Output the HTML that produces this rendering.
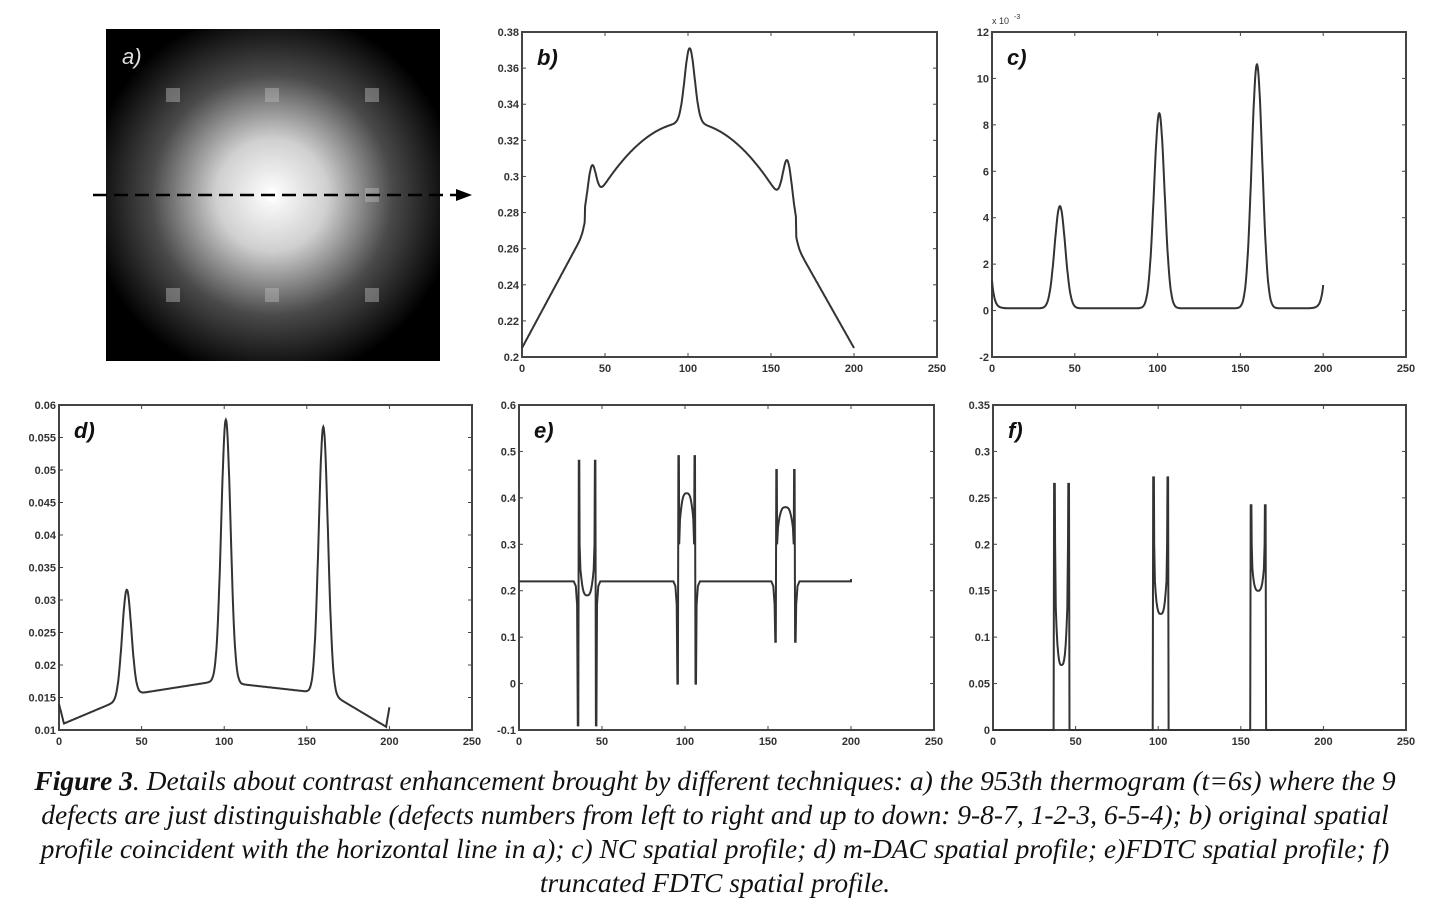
<!DOCTYPE html>
<html><head><meta charset="utf-8"><style>
html,body{margin:0;padding:0;background:#fff;}
body{width:1430px;height:921px;position:relative;overflow:hidden;}
svg{position:absolute;left:0;top:0;}
.cap{position:absolute;left:0;width:1430px;top:764px;text-align:center;font-family:"Liberation Serif",serif;font-style:italic;font-size:27.5px;line-height:34px;color:#111;white-space:nowrap;}
</style></head><body>
<svg id="s" width="1430" height="921" xmlns="http://www.w3.org/2000/svg">
<defs>
<radialGradient id="g" cx="272" cy="195" r="185" gradientUnits="userSpaceOnUse">
<stop offset="0" stop-color="#fff"/><stop offset="0.3" stop-color="#d0d0d0"/><stop offset="0.65" stop-color="#4a4a4a"/><stop offset="1" stop-color="#000"/>
</radialGradient>
</defs>
<rect x="106" y="29" width="334" height="332" fill="#000"/>
<rect x="106" y="29" width="334" height="332" fill="url(#g)"/>
<g fill="#bbb" opacity="0.45">
<rect x="166" y="88" width="14" height="14"/><rect x="265" y="88" width="14" height="14"/><rect x="365" y="88" width="14" height="14"/>
<rect x="166" y="288" width="14" height="14"/><rect x="265" y="288" width="14" height="14"/><rect x="365" y="288" width="14" height="14"/>
<rect x="365" y="188" width="14" height="14"/>
</g>
<circle cx="272" cy="195" r="6" fill="#fff"/>
<text x="122" y="64" font-family="Liberation Sans,sans-serif" font-style="italic" font-size="22" fill="#ddd">a)</text>
<line x1="93" y1="195" x2="462" y2="195" stroke="#000" stroke-width="2.5" stroke-dasharray="14,7"/>
<polygon points="456,189 472,195 456,201" fill="#000"/>
</svg>
<div class="cap"><b>Figure 3</b>. Details about contrast enhancement brought by different techniques: a) the 953th thermogram (t=6s) where the 9<br>defects are just distinguishable (defects numbers from left to right and up to down: 9-8-7, 1-2-3, 6-5-4); b) original spatial<br>profile coincident with the horizontal line in a); c) NC spatial profile; d) m-DAC spatial profile; e)FDTC spatial profile; f)<br>truncated FDTC spatial profile.</div>
<script>
var S=document.getElementById('s'),NS='http://www.w3.org/2000/svg';
function el(t,a,txt){var e=document.createElementNS(NS,t);for(var k in a)e.setAttribute(k,a[k]);if(txt!=null)e.textContent=txt;S.appendChild(e);return e;}
function G(x,m,s){return Math.exp(-(x-m)*(x-m)/(2*s*s));}
function panel(L,T,R,B,ymin,ymax,yt,lab,fn,pts,extra){
 el('rect',{x:L,y:T,width:R-L,height:B-T,fill:'none',stroke:'#444','stroke-width':2});
 var fx=function(x){return L+(R-L)*x/250},fy=function(y){return B-(B-T)*(y-ymin)/(ymax-ymin)};
 for(var i=0;i<=5;i++){var x=fx(i*50);el('line',{x1:x,y1:B,x2:x,y2:B-4,stroke:'#444'});el('line',{x1:x,y1:T,x2:x,y2:T+4,stroke:'#444'});
  el('text',{x:x,y:B+15,'text-anchor':'middle','font-family':'Liberation Sans,sans-serif','font-size':11,'font-weight':'bold',fill:'#333'},i*50);}
 yt.forEach(function(v){var y=fy(v);el('line',{x1:L,y1:y,x2:L+4,y2:y,stroke:'#444'});el('line',{x1:R,y1:y,x2:R-4,y2:y,stroke:'#444'});
  el('text',{x:L-3,y:y+4,'text-anchor':'end','font-family':'Liberation Sans,sans-serif','font-size':11,'font-weight':'bold',fill:'#333'},String(v));});
 el('text',{x:L+15,y:T+33,'font-family':'Liberation Sans,sans-serif','font-style':'italic','font-weight':'bold','font-size':22,fill:'#111'},lab);
 var d='';
 if(fn){for(var x=0;x<=200;x+=0.25){d+=(x?'L':'M')+fx(x).toFixed(1)+','+fy(fn(x)).toFixed(1);}}
 else{pts.forEach(function(p,i){d+=(i?'L':'M')+fx(p[0]).toFixed(1)+','+fy(p[1]).toFixed(1);});}
 el('path',{d:d,fill:'none',stroke:'#333','stroke-width':2});
 if(extra)extra(fx,fy);
}
panel(522,32,937,357,0.2,0.38,[0.2,0.22,0.24,0.26,0.28,0.3,0.32,0.34,0.36,0.38],'b)',function(x){
 var b;
 if(x<38)b=0.205+0.065*x/38;
 else if(x>165)b=0.262-0.057*(x-165)/35;
 else b=0.33-1.37e-5*(x-100)*(x-100);
 if(x<=45&&x>=38)b=Math.max(b,0.27);
 return b+0.022*G(x,42,2.5)+0.041*G(x,101,3)+0.028*G(x,160,2.8);
});
panel(992,32,1406,357,-2,12,[-2,0,2,4,6,8,10,12],'c)',function(x){
 return 0.1+1.2*Math.exp(-x/1.5)+1.0*Math.exp(-(200-x)/1.5)+4.4*G(x,41,3.2)+8.4*G(x,101,3.2)+10.5*G(x,160,3.2);
},null,function(fx,fy){el('text',{x:992,y:24,'font-family':'Liberation Sans,sans-serif','font-size':9,fill:'#333'},'x 10');el('text',{x:1014,y:19,'font-family':'Liberation Sans,sans-serif','font-size':7,fill:'#333'},'-3');});
panel(59,405,472,730,0.01,0.06,[0.01,0.015,0.02,0.025,0.03,0.035,0.04,0.045,0.05,0.055,0.06],'d)',function(x){
 var b;
 if(x<3)b=0.014-0.001*x;else if(x<45)b=0.011+0.0045*(x-3)/42;
 else if(x<105)b=0.0155+0.002*(x-45)/50;
 else if(x<165)b=0.0172-0.0017*(x-105)/60;
 else if(x<198)b=0.0155-0.005*(x-165)/33;else b=0.0105+0.0015*(x-198);
 return b+0.0165*G(x,41,2.8)+0.04*G(x,101,2.8)+0.041*G(x,160,2.8);
});
function grp(a,b,mx,um,mn){var c=(a+b)/2,p=[];
 p.push([a-3,0.22],[a-1.8,0.21],[a-1,0.17],[a-0.6,mn],[a-0.3,mn],[a,mx],[a+0.3,mx],[a+0.5,0.3]);
 for(var x=a+1;x<=b-1;x+=0.5){var t=(x-c)/((b-a)/2);p.push([x,um+(0.3-um)*Math.pow(Math.abs(t),3)]);}
 p.push([b-0.5,0.3],[b-0.3,mx],[b,mx],[b+0.3,mn],[b+0.6,mn],[b+1,0.17],[b+1.8,0.21],[b+3,0.22]);return p;}
var ep=[[0,0.22]].concat(grp(36,46,0.48,0.19,-0.09),grp(96,106,0.49,0.41,0.0),grp(155,166,0.46,0.38,0.09),[[200,0.22],[200,0.225]]);
panel(519,405,934,730,-0.1,0.6,[-0.1,0,0.1,0.2,0.3,0.4,0.5,0.6],'e)',null,ep);
function fg(a,b,mx,um){var c=(a+b)/2,p=[[a-0.3,0],[a,mx],[a+0.4,mx],[a+0.6,0.2]];
 for(var x=a+1;x<=b-1;x+=0.5){var t=(x-c)/((b-a)/2);p.push([x,um+(0.2-um)*Math.pow(Math.abs(t),3)]);}
 p.push([b-0.6,0.2],[b-0.4,mx],[b,mx],[b+0.3,0]);return p;}
var fp=[[0,0]].concat(fg(37,46,0.265,0.07),fg(97,106,0.272,0.125),fg(156,165,0.242,0.15),[[200,0]]);
panel(993,405,1406,730,0,0.35,[0,0.05,0.1,0.15,0.2,0.25,0.3,0.35],'f)',null,fp);
</script>
</body></html>
